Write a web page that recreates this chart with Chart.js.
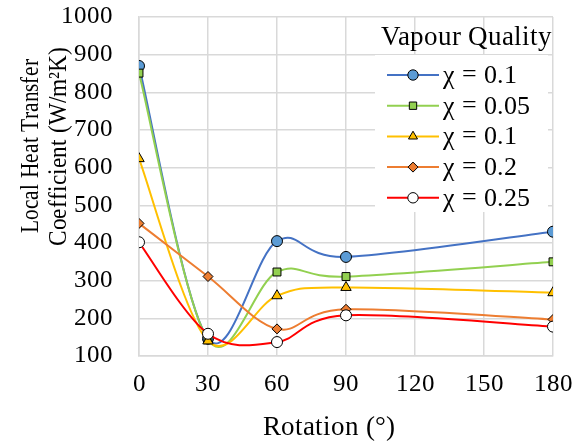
<!DOCTYPE html>
<html>
<head>
<meta charset="utf-8">
<title>Local Heat Transfer Coefficient vs Rotation</title>
<script src="https://cdn.jsdelivr.net/npm/chart.js@4.4.1/dist/chart.umd.min.js"></script>
<style>
    @font-face {
        font-family: 'TimesLike';
        src: local('Liberation Serif'), local('LiberationSerif'), local('LiberationSerif-Regular'), local('Tinos'), local('Times New Roman');
    }
    @font-face {
        font-family: 'GreekSerif';
        src: local('DejaVu Serif'), local('DejaVuSerif'), local('Noto Serif'), local('NotoSerif-Regular');
    }
    html, body { margin: 0; padding: 0; background: #fff; }
    .wrap { width: 575px; height: 443px; }
</style>
</head>
<body>
<div class="wrap"><canvas id="htc"></canvas></div>
<script>
// rotation angle (deg) and heat transfer coefficient (W/m2K) per vapour quality
const rotation = [0, 30, 60, 90, 180];
const htcX010a = [870, 146, 405, 363, 430];
const htcX005 = [851, 143, 323, 311, 350];
const htcX010b = [624, 140, 260, 282, 268];
const htcX020 = [452, 311, 172, 224, 197];
const htcX025 = [402, 159, 137, 208, 178];

const seriesLabels = ['χ = 0.1', 'χ = 0.05', 'χ = 0.1', 'χ = 0.2', 'χ = 0.25'];
const seriesValues = [htcX010a, htcX005, htcX010b, htcX020, htcX025];
const xTicks = [0, 30, 60, 90, 120, 150, 180];
const yTicks = [100, 200, 300, 400, 500, 600, 700, 800, 900, 1000];

const serif = 'TimesLike, "Liberation Serif", "Times New Roman", serif';
const greek = 'TimesLike, GreekSerif, "DejaVu Serif", serif';

const styles = [
    { line: '#4472C4', fill: '#5B9BD5', shape: 'circle', r: 5.5 },
    { line: '#92D050', fill: '#92D050', shape: 'rect', r: 5.6 },
    { line: '#FFC000', fill: '#FFC000', shape: 'triangle', r: 6 },
    { line: '#ED7D31', fill: '#ED7D31', shape: 'rectRot', r: 5 },
    { line: '#FF0000', fill: '#FFFFFF', shape: 'circle', r: 5.5 }
];

const datasets = seriesValues.map(function (vals, i) {
    return {
        label: seriesLabels[i],
        data: rotation.map((x, j) => ({ x: x, y: vals[j] })),
        borderColor: styles[i].line,
        borderWidth: 2,
        backgroundColor: styles[i].fill,
        pointStyle: styles[i].shape,
        pointRadius: styles[i].r,
        pointBackgroundColor: styles[i].fill,
        pointBorderColor: '#000',
        pointBorderWidth: 1,
        tension: 0.4,
        order: 4 - i
    };
});

// spreadsheet-style smoothing: control arms are 1/6 of the neighbour chord
const smoothing = {
    id: 'smoothing',
    beforeDatasetDraw(chart, args) {
        const line = args.meta.dataset;
        line.updateControlPoints(chart.chartArea);
        const pts = line.points;
        const n = pts.length;
        for (let i = 0; i < n; i++) {
            const prev = pts[Math.max(i - 1, 0)];
            const next = pts[Math.min(i + 1, n - 1)];
            const dx = (next.x - prev.x) / 6;
            const dy = (next.y - prev.y) / 6;
            pts[i].cp1x = pts[i].x - dx;
            pts[i].cp1y = pts[i].y - dy;
            pts[i].cp2x = pts[i].x + dx;
            pts[i].cp2y = pts[i].y + dy;
        }
    }
};

// draw text squeezed along its baseline to a given length
function fitText(ctx, text, x, y, len) {
    const w = ctx.measureText(text).width;
    ctx.save();
    ctx.translate(x, y);
    ctx.scale(len / w, 1);
    ctx.fillText(text, 0, 0);
    ctx.restore();
}

// legend box, legend title and both axis titles
const decorations = {
    id: 'decorations',
    afterDraw(chart) {
        const ctx = chart.ctx;
        ctx.save();
        ctx.fillStyle = '#000';

        // y axis title, two lines
        ctx.font = '26px ' + serif;
        ctx.textAlign = 'center';
        ctx.textBaseline = 'alphabetic';
        ctx.translate(0, 146);
        ctx.rotate(-Math.PI / 2);
        fitText(ctx, 'Local Heat Transfer', 0, 38, 174);
        fitText(ctx, 'Coefficient (W/m²K)', 0, 66, 199);
        ctx.setTransform(1, 0, 0, 1, 0, 0);

        // x axis title
        ctx.font = '26.5px ' + serif;
        ctx.fillText('Rotation (°)', 329, 435);

        // legend
        ctx.fillStyle = '#fff';
        ctx.fillRect(375, 55, 173, 157);
        ctx.fillStyle = '#000';
        ctx.textAlign = 'left';
        ctx.textBaseline = 'middle';
        ctx.font = '26.8px ' + serif;
        ctx.fillText('Vapour Quality', 381, 38);

        chart.data.datasets.forEach(function (ds, i) {
            const y = 75 + i * 30.7;
            ctx.strokeStyle = ds.borderColor;
            ctx.lineWidth = 2;
            ctx.beginPath();
            ctx.moveTo(387, y);
            ctx.lineTo(439, y);
            ctx.stroke();
            ctx.fillStyle = ds.pointBackgroundColor;
            ctx.strokeStyle = '#000';
            ctx.lineWidth = 1;
            Chart.helpers.drawPoint(ctx, {
                pointStyle: ds.pointStyle,
                radius: Math.min(ds.pointRadius, 5.2),
                rotation: 0,
                borderWidth: 1
            }, 413, y);

            // Greek letter and the rest of the label drawn as two runs
            const sym = ds.label.slice(0, 1);
            const rest = ds.label.slice(1);
            ctx.fillStyle = '#000';
            ctx.font = '26px ' + greek;
            ctx.fillText(sym, 443, y + 1);
            const symW = ctx.measureText(sym).width;
            ctx.font = '26px ' + serif;
            ctx.fillText(rest, 443 + symW, y + 1);
        });
        ctx.restore();
    }
};

const config = {
    type: 'line',
    data: { datasets: datasets },
    options: {
        responsive: true,
        maintainAspectRatio: false,
        animation: false,
        layout: { padding: { top: 17, right: 22, left: 0, bottom: 0 } },
        plugins: {
            legend: { display: false },
            tooltip: { enabled: false }
        },
        scales: {
            x: {
                type: 'linear',
                min: 0,
                max: 180,
                afterBuildTicks(scale) {
                    scale.ticks = xTicks.map(v => ({ value: v }));
                },
                afterFit(scale) { scale.height = 87; },
                grid: { color: '#d9d9d9', lineWidth: 1.5, drawTicks: true, tickLength: 14, tickColor: 'rgba(0,0,0,0)' },
                border: { color: '#d9d9d9', width: 1.5 },
                ticks: {
                    color: '#000',
                    padding: 0,
                    maxRotation: 0,
                    font: { family: serif, size: 24.5 },
                    callback: v => String(v)
                }
            },
            y: {
                min: 100,
                max: 1000,
                afterBuildTicks(scale) {
                    scale.ticks = yTicks.map(v => ({ value: v }));
                },
                afterFit(scale) { scale.width = 139; },
                grid: { color: '#d9d9d9', lineWidth: 1.5, drawTicks: true, tickLength: 26, tickColor: 'rgba(0,0,0,0)' },
                border: { color: '#d9d9d9', width: 1.5 },
                ticks: {
                    color: '#000',
                    padding: 0,
                    font: { family: serif, size: 24.5 },
                    callback: v => String(v)
                }
            }
        }
    },
    plugins: [smoothing, decorations]
};

Promise.all([
    document.fonts.load('24px TimesLike'),
    document.fonts.load('24px GreekSerif', 'χ')
]).catch(function () {}).then(function () {
    let chart = new Chart(document.getElementById('htc'), config);
});
</script>
</body>
</html>
